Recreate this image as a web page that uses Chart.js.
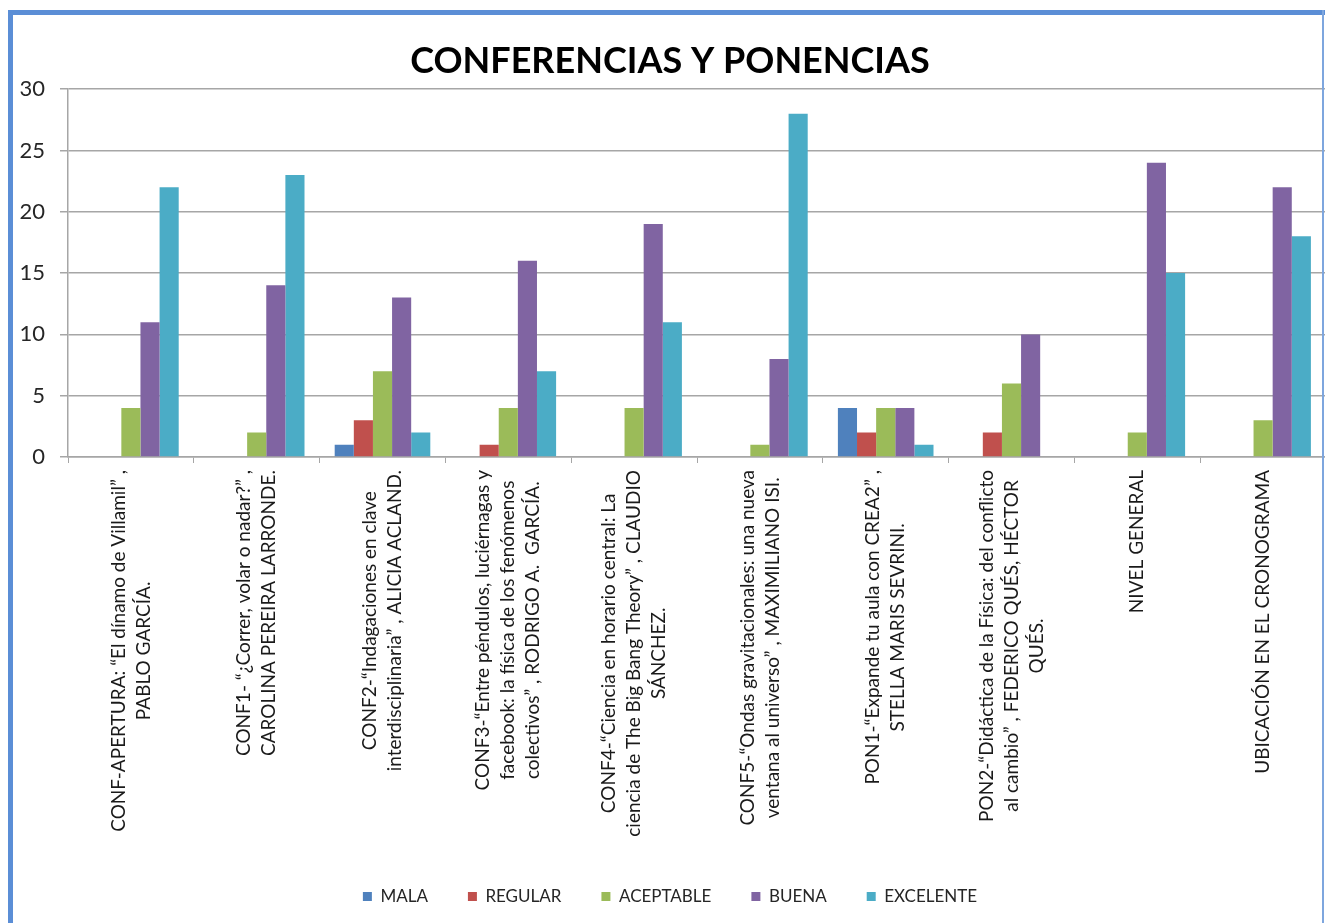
<!DOCTYPE html>
<html>
<head>
<meta charset="utf-8">
<script src="https://cdn.jsdelivr.net/npm/chart.js@4"></script>
<style>
  html, body { margin: 0; padding: 0; background: #fff; overflow: hidden; }
  #frame-top { position: absolute; left: 8px; top: 10px; width: 1317px; height: 5px; background: #5b8ed6; z-index: 2; }
  #frame-left { position: absolute; left: 8px; top: 10px; width: 5px; height: 913px; background: #5b8ed6; z-index: 2; }
  #frame-right { position: absolute; left: 1322px; top: 10px; width: 2px; height: 913px; background: #7ea6de; z-index: 2; }
  #wrap { position: absolute; left: 14px; top: 14px; width: 1312px; height: 901px; }
</style>
</head>
<body>
<div id="frame-top"></div>
<div id="frame-left"></div>
<div id="frame-right"></div>
<div id="wrap"><canvas id="myChart"></canvas></div>
<script>
// category labels, one entry per line of the rotated label
const categories = [
    ['CONF-APERTURA: “El dínamo de Villamil” ,', 'PABLO GARCÍA.'],
    ['CONF1- “¿Correr, volar o nadar?” ,', 'CAROLINA PEREIRA LARRONDE.'],
    ['CONF2-“Indagaciones en clave', 'interdisciplinaria” , ALICIA ACLAND.'],
    ['CONF3-“Entre péndulos, luciérnagas y', 'facebook: la física de los fenómenos', 'colectivos” , RODRIGO A.  GARCÍA.'],
    ['CONF4-“Ciencia en horario central: La', 'ciencia de The Big Bang Theory” , CLAUDIO', 'SÁNCHEZ.'],
    ['CONF5-“Ondas gravitacionales: una nueva', 'ventana al universo” , MAXIMILIANO ISI.'],
    ['PON1-“Expande tu aula con CREA2” ,', 'STELLA MARIS SEVRINI.'],
    ['PON2-“Didáctica de la Física: del conflicto', 'al cambio” , FEDERICO QUÉS, HÉCTOR', 'QUÉS.'],
    ['NIVEL GENERAL'],
    ['UBICACIÓN EN EL CRONOGRAMA'],
];

const mala      = [0, 0, 1, 0, 0, 0, 4, 0, 0, 0];
const regular   = [0, 0, 3, 1, 0, 0, 2, 2, 0, 0];
const aceptable = [4, 2, 7, 4, 4, 1, 4, 6, 2, 3];
const buena     = [11, 14, 13, 16, 19, 8, 4, 10, 24, 22];
const excelente = [22, 23, 2, 7, 11, 28, 1, 0, 15, 18];

const yTicks = [0, 5, 10, 15, 20, 25, 30];

const gridGray = '#a6a6a6';

// draws the rotated category labels, lines centred on each other like Excel does
const xLabelPlugin = {
    id: 'xLabels',
    afterDraw(chart) {
        const ctx = chart.ctx;
        const xs = chart.scales.x;
        ctx.save();
        ctx.font = '19px Lato';
        ctx.fillStyle = '#1a1a1a';
        ctx.textAlign = 'center';
        ctx.textBaseline = 'middle';
        categories.forEach((lines, i) => {
            const maxW = Math.max(...lines.map(l => ctx.measureText(l).width));
            const x = xs.getPixelForValue(i);
            const y = chart.chartArea.bottom + 13 + maxW / 2;
            ctx.save();
            ctx.translate(x, y);
            ctx.rotate(-Math.PI / 2);
            lines.forEach((l, j) => {
                ctx.fillText(l, 0, (j - (lines.length - 1) / 2) * 25);
            });
            ctx.restore();
        });
        ctx.restore();
    }
};

const data = {
    labels: categories.map(c => c.join(' ')),
    datasets: [
        { label: 'MALA', data: mala, backgroundColor: '#4f81bd' },
        { label: 'REGULAR', data: regular, backgroundColor: '#c0504d' },
        { label: 'ACEPTABLE', data: aceptable, backgroundColor: '#9bbb59' },
        { label: 'BUENA', data: buena, backgroundColor: '#8064a2' },
        { label: 'EXCELENTE', data: excelente, backgroundColor: '#4bacc6' },
    ]
};

const config = {
    type: 'bar',
    data: data,
    options: {
        responsive: true,
        maintainAspectRatio: false,
        animation: false,
        layout: { padding: 0 },
        datasets: {
            bar: { categoryPercentage: 0.76, barPercentage: 1, borderWidth: 0 }
        },
        plugins: {
            title: {
                display: true,
                text: 'CONFERENCIAS Y PONENCIAS',
                color: '#000',
                font: { family: 'Lato', size: 36, weight: 'bold' },
                padding: { top: 26, bottom: 6 }
            },
            legend: {
                position: 'bottom',
                labels: {
                    color: '#262626',
                    font: { family: 'Lato', size: 17 },
                    boxWidth: 9,
                    boxHeight: 9,
                    padding: 40
                }
            },
            tooltip: { enabled: false }
        },
        scales: {
            x: {
                grid: {
                    display: true,
                    drawOnChartArea: false,
                    drawTicks: true,
                    tickLength: 6,
                    color: gridGray,
                    offset: true
                },
                border: { display: true, color: gridGray, width: 1.5 },
                ticks: { display: false },
                afterFit(scale) { scale.height = 391; }
            },
            y: {
                min: 0,
                max: 30,
                afterBuildTicks(scale) { scale.ticks = yTicks.map(v => ({ value: v })); },
                grid: { color: gridGray, lineWidth: 1.5, tickLength: 8 },
                border: { display: true, color: gridGray, width: 1.5 },
                ticks: {
                    color: '#262626',
                    padding: 15,
                    font: { family: 'Lato', size: 22 }
                },
                afterFit(scale) { scale.width = 54; }
            }
        }
    },
    plugins: [xLabelPlugin]
};

document.fonts.load('19px Lato').then(() => {
    const myChart = new Chart(
        document.getElementById('myChart'),
        config
    );
});
</script>
</body>
</html>
